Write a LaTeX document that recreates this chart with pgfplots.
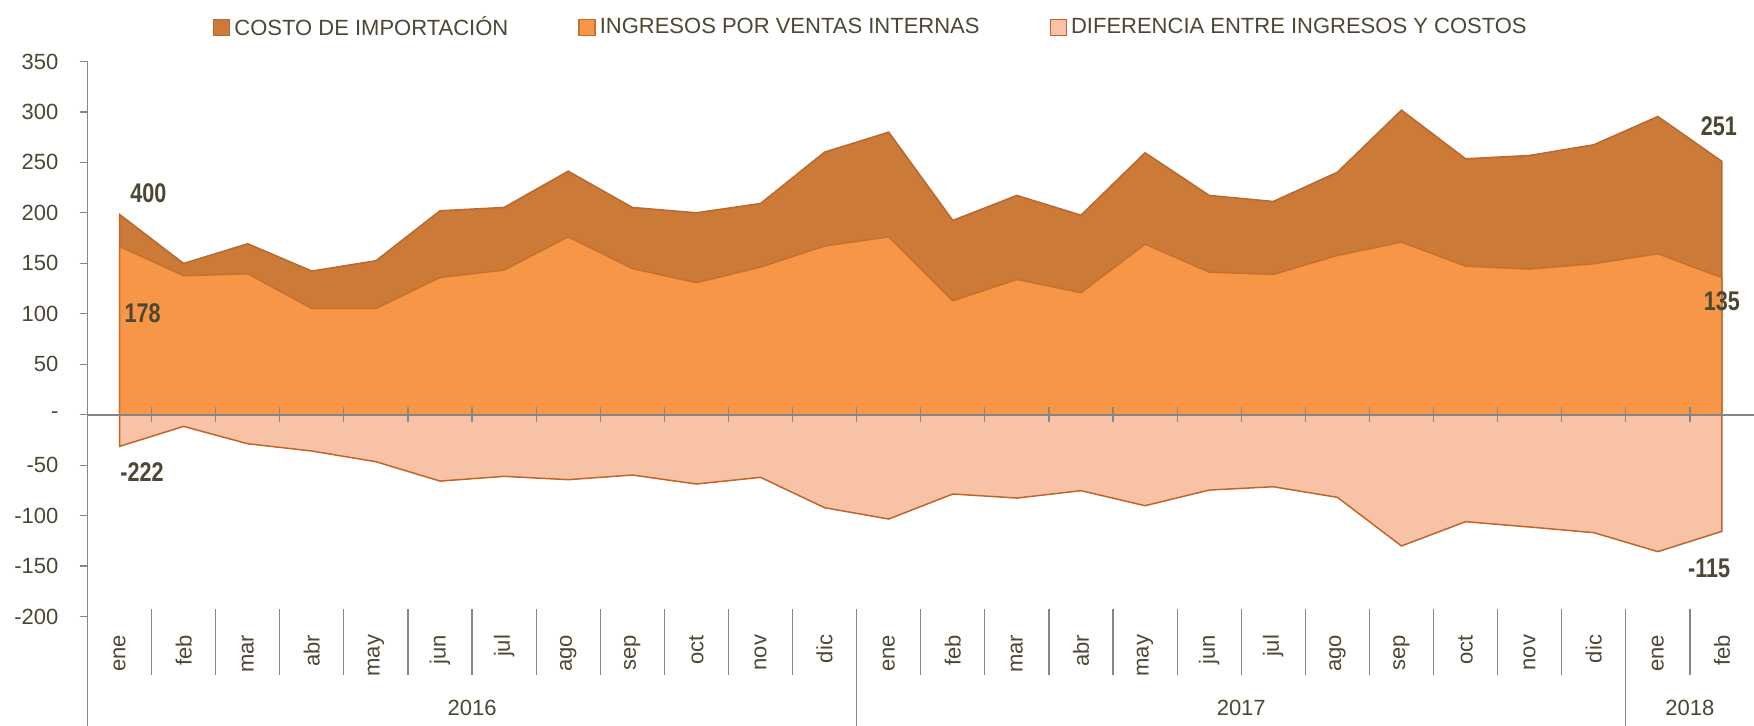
\documentclass[border=0pt]{standalone}
\usepackage{fontspec}
\setmainfont{Liberation Sans}
\newfontfamily\narrowfont{Liberation Sans}[FakeStretch=0.8]
\usepackage{pgfplots}
\pgfplotsset{compat=1.18}
\definecolor{costo}{HTML}{CC7A38}
\definecolor{ingresos}{HTML}{F79646}
\definecolor{dif}{HTML}{F8C2A7}
\definecolor{costoline}{HTML}{B8692F}
\definecolor{ingline}{HTML}{C6712E}
\definecolor{difline}{HTML}{C0652A}
\definecolor{txt}{HTML}{4B4733}
\definecolor{axgray}{HTML}{868686}
\newcommand{\tf}{\fontsize{11}{13}\selectfont}
\newcommand{\lf}{\narrowfont\bfseries\fontsize{13.5}{15}\selectfont}
\begin{document}
\begin{tikzpicture}
\path[use as bounding box] (0,0) rectangle (877pt,362.5pt);
\begin{axis}[
  at={(43.75pt,54.25pt)}, anchor=south west,
  scale only axis, width=833.25pt, height=277.5pt,
  xmin=-0.5, xmax=25.5, ymin=-200, ymax=350,
  clip=false,
  axis x line*=bottom, axis y line*=left,
  x axis line style={draw=none},
  y axis line style={draw=axgray, line width=0.6pt},
  tick align=outside, major tick length=4pt,
  ytick={-200,-150,-100,-50,0,50,100,150,200,250,300,350},
  yticklabels={-200,-150,-100,-50,-,50,100,150,200,250,300,350},
  ytick style={draw=axgray, line width=0.6pt},
  yticklabel style={font=\tf, text=txt, xshift=-7pt},
  xtick={0,...,25},
  xticklabels={ene,feb,mar,abr,may,jun,jul,ago,sep,oct,nov,dic,ene,feb,mar,abr,may,jun,jul,ago,sep,oct,nov,dic,ene,feb},
  xtick style={draw=none},
  xticklabel style={yshift=-5pt, rotate=90, anchor=east, inner sep=0pt, font=\tf, text=txt},
  legend style={draw=none, fill=none, legend columns=3, at={(0.0753,1.0613)}, anchor=west,
    font=\tf, text=txt, inner sep=0pt, outer sep=0pt,
    /tikz/every even column/.append style={column sep=33pt}},
  legend cell align=left,
  legend image code/.code={\draw[#1] (0pt,-4pt) rectangle (8pt,4pt);},
]
\addplot[fill=costo, draw=costoline, line width=0.75pt] coordinates {
(0,0) (0,198.4) (1,149.9) (2,169.4) (3,142.3) (4,152.6) (5,202.1) (6,205.4) (7,241.3) (8,205.4) (9,200.1) (10,209.3) (11,260.2)
(12,280.0) (13,192.5) (14,217.3) (15,197.7) (16,259.6) (17,217.3) (18,211.3) (19,240.3) (20,301.8) (21,253.6) (22,256.9) (23,267.5)
(24,295.5) (25,251) (25,0)};
\addlegendentry{COSTO DE IMPORTACIÓN}
\addplot[fill=ingresos, draw=ingline, line width=0.75pt] coordinates {
(0,0) (0,166.7) (1,137.7) (2,139.7) (3,105.3) (4,105.3) (5,136.0) (6,143.3) (7,176.3) (8,144.9) (9,130.8) (10,146.3) (11,167.1)
(12,176.3) (13,112.9) (14,134.0) (15,120.9) (16,169.0) (17,141.3) (18,139.0) (19,157.8) (20,171.0) (21,147.2) (22,144.3) (23,149.6)
(24,159.5) (25,135.7) (25,0)};
\addlegendentry{INGRESOS POR VENTAS INTERNAS}
\addplot[fill=dif, draw=difline, line width=0.75pt] coordinates {
(0,0) (0,-31.4) (1,-11.6) (2,-28.8) (3,-36.0) (4,-46.6) (5,-65.8) (6,-61.1) (7,-64.4) (8,-59.8) (9,-68.7) (10,-62.1) (11,-92.2)
(12,-103.4) (13,-78.6) (14,-82.6) (15,-75.3) (16,-90.2) (17,-74.7) (18,-71.4) (19,-81.9) (20,-130.1) (21,-106.0) (22,-111.3) (23,-116.9)
(24,-135.7) (25,-115.6) (25,0)};
\addlegendentry{DIFERENCIA ENTRE INGRESOS Y COSTOS}
% zero line with boundary ticks
\draw[axgray, line width=1pt] (axis cs:-0.5,0) -- (axis cs:25.5,0);
\pgfplotsinvokeforeach{0.5,1.5,...,24.5}{
  \draw[axgray, line width=0.6pt] (axis cs:#1,-7.5) -- (axis cs:#1,7.5);
}
% category separators
\pgfplotsinvokeforeach{0.5,1.5,...,10.5}{
  \draw[axgray, line width=0.6pt] (axis cs:#1,-193) -- (axis cs:#1,-258);
}
\pgfplotsinvokeforeach{12.5,13.5,...,22.5}{
  \draw[axgray, line width=0.6pt] (axis cs:#1,-193) -- (axis cs:#1,-258);
}
\draw[axgray, line width=0.6pt] (axis cs:24.5,-193) -- (axis cs:24.5,-258);
\draw[axgray, line width=0.6pt] (axis cs:11.5,-193) -- (axis cs:11.5,-312);
\draw[axgray, line width=0.6pt] (axis cs:23.5,-193) -- (axis cs:23.5,-312);
\draw[axgray, line width=0.6pt] (axis cs:-0.5,-200) -- (axis cs:-0.5,-312);
% year labels
\node[font=\tf, text=txt] at (axis cs:5.5,-291) {2016};
\node[font=\tf, text=txt] at (axis cs:17.5,-291) {2017};
\node[font=\tf, text=txt] at (axis cs:24.5,-291) {2018};
% data labels
\node[font=\lf, text=txt] at (axis cs:0.45,219.4) {400};
\node[font=\lf, text=txt] at (axis cs:0.36,100.4) {178};
\node[font=\lf, text=txt] at (axis cs:0.35,-57.2) {-222};
\node[font=\lf, text=txt] at (axis cs:24.95,285.8) {251};
\node[font=\lf, text=txt] at (axis cs:25.0,112) {135};
\node[font=\lf, text=txt] at (axis cs:24.8,-152.4) {-115};
\end{axis}
\end{tikzpicture}
\end{document}
